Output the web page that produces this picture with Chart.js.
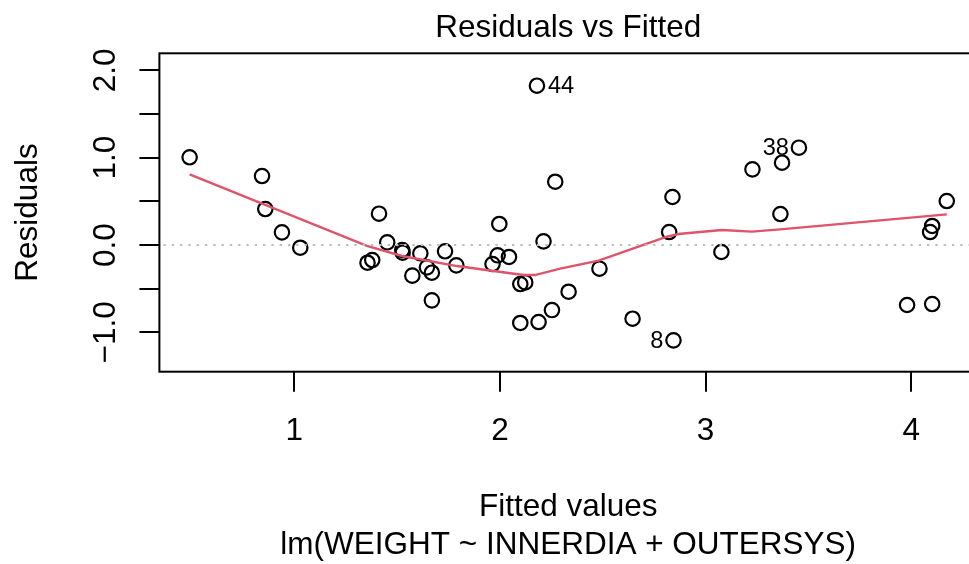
<!DOCTYPE html>
<html>
<head>
<meta charset="utf-8">
<title>Residuals vs Fitted</title>
<style>
  html, body { margin: 0; padding: 0; background: #ffffff; overflow: hidden; }
  #wrap { width: 1000px; height: 564px; }
</style>
<script src="https://cdn.jsdelivr.net/npm/chart.js@4.4.1/dist/chart.umd.min.js"></script>
</head>
<body>
<div id="wrap"><canvas id="c" width="1000" height="564"></canvas></div>
<script>
// Fitted values and residuals of lm(WEIGHT ~ INNERDIA + OUTERSYS), ordered by fitted value
const fitted = [0.491, 0.843, 0.859, 0.940, 1.029, 1.356, 1.379, 1.412, 1.452, 1.525,
                1.527, 1.574, 1.613, 1.645, 1.669, 1.669, 1.733, 1.788, 1.964, 1.989,
                1.997, 2.044, 2.099, 2.099, 2.123, 2.180, 2.188, 2.212, 2.253, 2.269,
                2.334, 2.484, 2.645, 2.823, 2.839, 2.844, 3.077, 3.228, 3.364, 3.372,
                3.454, 3.980, 4.092, 4.102, 4.102, 4.173];
const residuals = [1.005, 0.790, 0.412, 0.145, -0.031, -0.203, -0.172, 0.359, 0.031, -0.057,
                   -0.088, -0.351, -0.095, -0.256, -0.317, -0.634, -0.072, -0.233, -0.218, -0.118,
                   0.241, -0.137, -0.447, -0.893, -0.428, 1.825, -0.882, 0.042, -0.745, 0.725,
                   -0.535, -0.271, -0.844, 0.149, 0.550, -1.092, -0.080, 0.867, 0.355, 0.943,
                   1.115, -0.687, 0.149, 0.218, -0.676, 0.504];

// Vertices of the lowess smoother
const smoothX = [0.491, 1.353, 1.524, 1.791, 1.969, 2.115, 2.170, 2.293, 2.480, 2.812, 2.868, 3.079, 3.225, 3.363, 4.173];
const smoothY = [0.810, -0.011, -0.126, -0.241, -0.298, -0.344, -0.344, -0.270, -0.179, 0.095, 0.126, 0.172, 0.153, 0.179, 0.351];

// Observations flagged with their row number
const idLabels = ['44', '38', '8'];
const idIndex  = [25, 40, 35];
const idSide   = ['right', 'left', 'left'];

// Axes
const xTicks = [1, 2, 3, 4];
const xTickLabels = ['1', '2', '3', '4'];
const yTicks = [-1, -0.5, 0, 0.5, 1, 1.5, 2];
const yLabelValues = [-1, 0, 1, 2];
const yTickLabels = ['\u22121.0', '0.0', '1.0', '2.0'];
const xRange = [0.344, 4.320];
const yRange = [-1.451, 2.196];

const FONT = '"Liberation Sans", Arial, Helvetica, sans-serif';
const BASE = 31.5;

const points = fitted.map((x, i) => ({ x: x, y: residuals[i] }));
const smooth = smoothX.map((x, i) => ({ x: x, y: smoothY[i] }));

// Frame, reference line and all text in base-graphics style
const basePlot = {
  id: 'basePlot',
  afterDraw(chart) {
    const ctx = chart.ctx;
    const a = chart.chartArea;
    const xs = chart.scales.x, ys = chart.scales.y;
    ctx.save();

    // dotted zero line
    ctx.save();
    ctx.beginPath();
    ctx.rect(a.left, a.top, a.right - a.left, a.bottom - a.top);
    ctx.clip();
    ctx.strokeStyle = '#BEBEBE';
    ctx.lineWidth = 2;
    ctx.setLineDash([2.4, 5.9]);
    const y0 = ys.getPixelForValue(0);
    ctx.beginPath();
    ctx.moveTo(a.left + 4, y0);
    ctx.lineTo(a.right, y0);
    ctx.stroke();
    ctx.restore();

    // box
    ctx.strokeStyle = '#000';
    ctx.lineWidth = 2;
    ctx.setLineDash([]);
    ctx.strokeRect(a.left, a.top, a.right - a.left, a.bottom - a.top);

    ctx.fillStyle = '#000';
    ctx.font = BASE + 'px ' + FONT;
    ctx.textBaseline = 'alphabetic';

    // x tick labels
    ctx.textAlign = 'center';
    xTicks.forEach((v, i) => ctx.fillText(xTickLabels[i], xs.getPixelForValue(v), 440));

    // y tick labels, reading upward
    yLabelValues.forEach((v, i) => {
      ctx.save();
      ctx.translate(115, ys.getPixelForValue(v));
      ctx.rotate(-Math.PI / 2);
      ctx.fillText(yTickLabels[i], 0, 0);
      ctx.restore();
    });

    const cx = (a.left + a.right) / 2;
    const cy = (a.top + a.bottom) / 2;

    // title and axis titles
    ctx.fillText('Residuals vs Fitted', cx, 37);
    ctx.fillText('Fitted values', cx, 516);
    ctx.fillText('lm(WEIGHT ~ INNERDIA + OUTERSYS)', cx, 554);
    ctx.save();
    ctx.translate(37, cy);
    ctx.rotate(-Math.PI / 2);
    ctx.fillText('Residuals', 0, 0);
    ctx.restore();

    // row labels next to the flagged points
    const idSize = BASE * 0.75;
    ctx.font = idSize + 'px ' + FONT;
    idLabels.forEach((t, k) => {
      const i = idIndex[k];
      const px = xs.getPixelForValue(fitted[i]);
      const py = ys.getPixelForValue(residuals[i]);
      const yb = py + 0.358 * idSize - 1;
      if (idSide[k] === 'right') {
        ctx.textAlign = 'left';
        ctx.fillText(t, px + 11, yb);
      } else {
        ctx.textAlign = 'right';
        ctx.fillText(t, px - 10, yb);
      }
    });

    ctx.restore();
  }
};

const tickGrid = {
  drawOnChartArea: false,
  drawTicks: true,
  tickLength: 20,
  color: '#000',
  lineWidth: 2
};

new Chart(document.getElementById('c'), {
  type: 'scatter',
  data: {
    datasets: [
      {
        data: points,
        order: 2,
        pointStyle: 'circle',
        pointRadius: 7.2,
        pointHoverRadius: 7.2,
        pointBorderWidth: 2.2,
        borderColor: '#000',
        backgroundColor: 'rgba(0,0,0,0)',
        showLine: false
      },
      {
        type: 'line',
        data: smooth,
        order: 1,
        borderColor: '#DF536B',
        borderWidth: 2.4,
        pointRadius: 0,
        fill: false,
        tension: 0
      }
    ]
  },
  options: {
    responsive: false,
    animation: false,
    devicePixelRatio: 1,
    events: [],
    layout: { padding: { top: 53.3, right: 23, bottom: 0, left: 0 } },
    plugins: { legend: { display: false }, tooltip: { enabled: false }, title: { display: false } },
    scales: {
      x: {
        type: 'linear',
        min: xRange[0],
        max: xRange[1],
        border: { display: false },
        grid: tickGrid,
        ticks: { display: false },
        afterBuildTicks: (s) => { s.ticks = xTicks.map(v => ({ value: v })); },
        afterFit: (s) => { s.height = 192.3; }
      },
      y: {
        type: 'linear',
        min: yRange[0],
        max: yRange[1],
        border: { display: false },
        grid: tickGrid,
        ticks: { display: false },
        afterBuildTicks: (s) => { s.ticks = yTicks.map(v => ({ value: v })); },
        afterFit: (s) => { s.width = 159.4; }
      }
    }
  },
  plugins: [basePlot]
});
</script>
</body>
</html>
